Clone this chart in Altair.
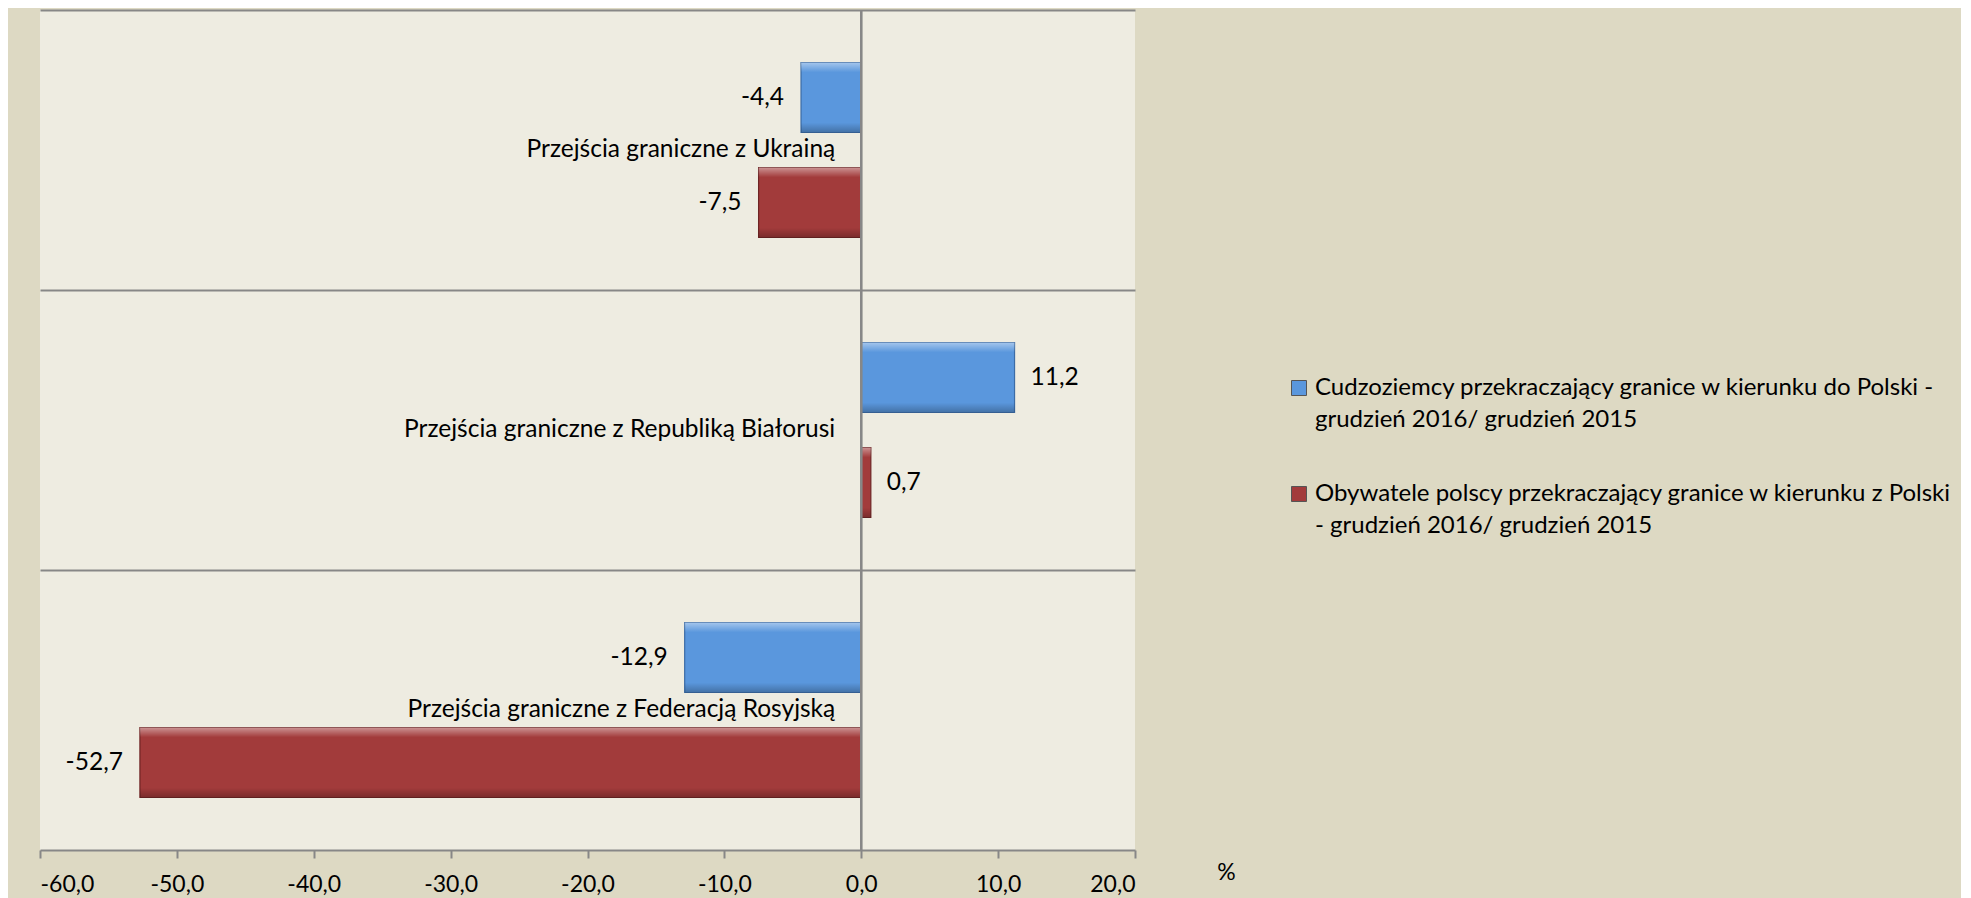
import altair as alt
import pandas as pd

categories = [
    "Przejścia graniczne z Ukrainą",
    "Przejścia graniczne z Republiką Białorusi",
    "Przejścia graniczne z Federacją Rosyjską",
]
series = [
    "Cudzoziemcy przekraczający granice w kierunku do Polski -\ngrudzień 2016/ grudzień 2015",
    "Obywatele polscy przekraczający granice w kierunku z Polski\n- grudzień 2016/ grudzień 2015",
]
foreigners = [-4.4, 11.2, -12.9]
polish = [-7.5, 0.7, -52.7]
x_ticks = [-60, -50, -40, -30, -20, -10, 0, 10, 20]
colors = ["#5A97DD", "#A23B3B"]
FONT = "Lato"
TXT = 24.5

rows = []
for c, a, b in zip(categories, foreigners, polish):
    rows.append({"cat": c, "series": series[0], "v": a})
    rows.append({"cat": c, "series": series[1], "v": b})
df = pd.DataFrame(rows)
cat_df = pd.DataFrame({"cat": categories})

num_fmt = "replace(replace(format({}, '.1f'), '.', ','), '\u2212', '-')"

y_enc = alt.Y("cat:N", sort=categories,
              scale=alt.Scale(paddingInner=0, paddingOuter=0),
              axis=alt.Axis(title=None, labels=False, ticks=False, domain=False,
                            grid=True, gridColor="#878787", gridWidth=2, bandPosition=0))
yoff = alt.YOffset("series:N", sort=series,
                   scale=alt.Scale(paddingInner=1 / 3, paddingOuter=0.5))
x_enc = alt.X("v:Q", scale=alt.Scale(domain=[-60, 20], nice=False, zero=False),
              axis=alt.Axis(values=x_ticks, title="%", grid=False,
                            labelExpr=num_fmt.format("datum.value"),
                            labelFont=FONT, labelFontSize=23, labelColor="#000000",
                            labelPadding=15, tickSize=8, tickColor="#878787", tickWidth=2,
                            domainColor="#878787", domainWidth=2,
                            titleFont=FONT, titleFontSize=23, titleFontWeight="normal",
                            titleColor="#000000", titleX=1186, titleY=22,
                            titleAlign="center", titleBaseline="middle", titleAnchor="start"))

base = alt.Chart(df)

bars = base.mark_bar(strokeWidth=1.2).encode(
    x=x_enc,
    x2=alt.datum(0),
    y=y_enc,
    yOffset=yoff,
    color=alt.Color("series:N", sort=series,
                    scale=alt.Scale(domain=series, range=colors),
                    legend=alt.Legend(title=None, orient="none", legendX=1247, legendY=366,
                                      labelExpr="split(datum.label, '\\n')",
                                      labelFont=FONT, labelFontSize=24, labelColor="#000000",
                                      labelLimit=900, labelOffset=4, symbolType="square",
                                      symbolSize=225, symbolStrokeWidth=1,
                                      symbolStrokeColor="#555555",
                                      rowPadding=50, padding=0, labelBaseline="middle")),
    stroke=alt.Stroke("series:N", sort=series,
                      scale=alt.Scale(domain=series, range=["#3C6CA6", "#6E2424"]),
                      legend=None),
)

shine = base.mark_bar(
    fill=alt.Gradient(
        gradient="linear", x1=0, y1=0, x2=0, y2=1,
        stops=[
            alt.GradientStop(color="rgba(255,255,255,0.45)", offset=0),
            alt.GradientStop(color="rgba(255,255,255,0.0)", offset=0.14),
            alt.GradientStop(color="rgba(0,0,0,0.0)", offset=0.86),
            alt.GradientStop(color="rgba(0,0,0,0.25)", offset=1),
        ],
    ),
    strokeWidth=0,
).encode(x="v:Q", x2=alt.datum(0), y=alt.Y("cat:N", sort=categories), yOffset=yoff)

zero_rule = alt.Chart(cat_df).mark_rule(color="#878787", strokeWidth=2).encode(
    x=alt.datum(0), y=alt.value(0), y2=alt.value(840)
)

val_text = num_fmt.format("datum.v")
neg_labels = base.transform_filter("datum.v < 0").transform_calculate(lab=val_text).mark_text(
    align="right", baseline="middle", dx=-17, font=FONT, fontSize=TXT, color="#000000"
).encode(x="v:Q", y=alt.Y("cat:N", sort=categories), yOffset=yoff, text="lab:N")
pos_labels = base.transform_filter("datum.v >= 0").transform_calculate(lab=val_text).mark_text(
    align="left", baseline="middle", dx=16, font=FONT, fontSize=TXT, color="#000000"
).encode(x="v:Q", y=alt.Y("cat:N", sort=categories), yOffset=yoff, text="lab:N")

cat_labels = alt.Chart(cat_df).mark_text(
    align="right", baseline="middle", dx=-26, font=FONT, fontSize=TXT, color="#000000"
).encode(x=alt.datum(0), y=alt.Y("cat:N", sort=categories), text="cat:N")

chart = alt.layer(bars, shine, zero_rule, neg_labels, pos_labels, cat_labels).resolve_scale(
    color="independent"
).properties(
    width=1095, height=840, autosize="none",
    padding={"left": 32, "top": 2, "right": 826, "bottom": 48},
).configure(
    background="#DDD9C3", style={"guide-label": {"lineHeight": 32}}
).configure_view(fill="#EEECE1", strokeWidth=0)

chart.save("out.html", embed_options={"renderer": "svg", "actions": False})
